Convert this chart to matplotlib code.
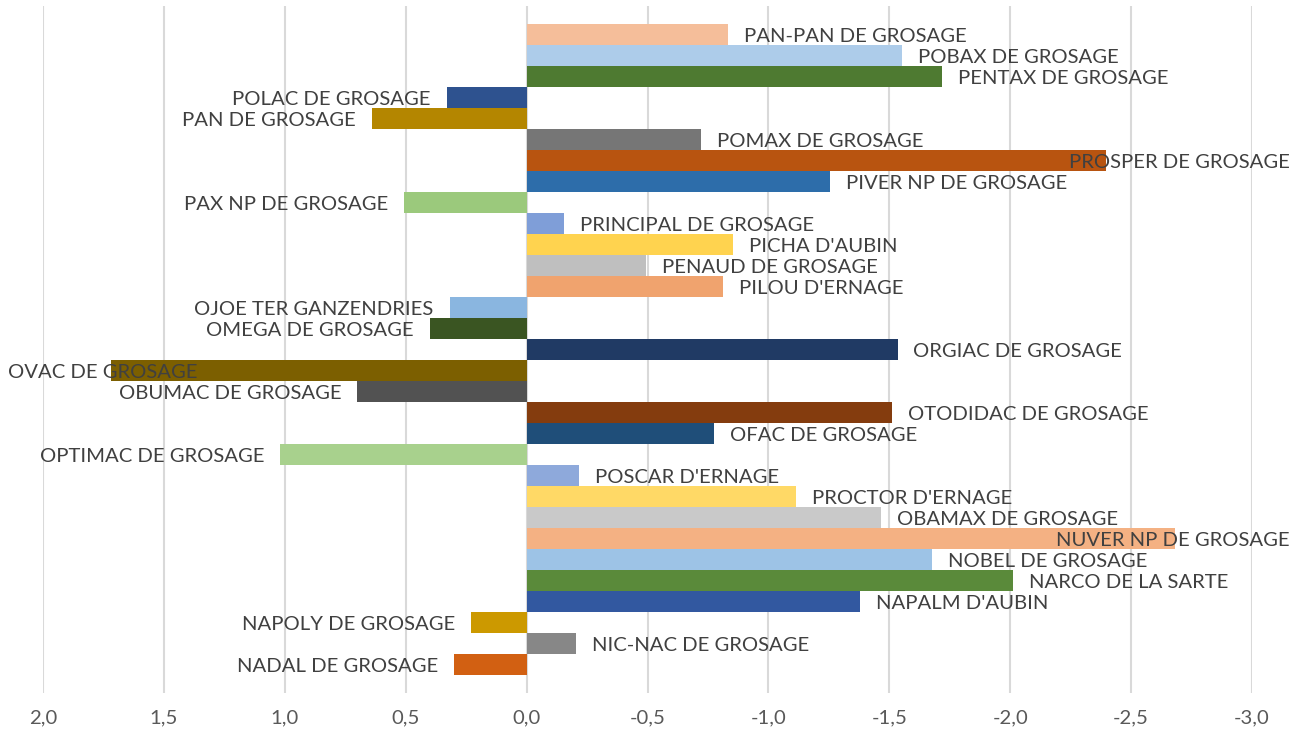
import matplotlib
matplotlib.use("Agg")
import matplotlib.pyplot as plt
import numpy as np

# bars listed top to bottom
producers = [
    "PAN-PAN DE GROSAGE", "POBAX DE GROSAGE", "PENTAX DE GROSAGE", "POLAC DE GROSAGE",
    "PAN DE GROSAGE", "POMAX DE GROSAGE", "PROSPER DE GROSAGE", "PIVER NP DE GROSAGE",
    "PAX NP DE GROSAGE", "PRINCIPAL DE GROSAGE", "PICHA D'AUBIN", "PENAUD DE GROSAGE",
    "PILOU D'ERNAGE", "OJOE TER GANZENDRIES", "OMEGA DE GROSAGE", "ORGIAC DE GROSAGE",
    "OVAC DE GROSAGE", "OBUMAC DE GROSAGE", "OTODIDAC DE GROSAGE", "OFAC DE GROSAGE",
    "OPTIMAC DE GROSAGE", "POSCAR D'ERNAGE", "PROCTOR D'ERNAGE", "OBAMAX DE GROSAGE",
    "NUVER NP DE GROSAGE", "NOBEL DE GROSAGE", "NARCO DE LA SARTE", "NAPALM D'AUBIN",
    "NAPOLY DE GROSAGE", "NIC-NAC DE GROSAGE", "NADAL DE GROSAGE",
]
scores = [
    -0.833, -1.553, -1.716, 0.330,
    0.640, -0.721, -2.395, -1.256,
    0.507, -0.153, -0.853, -0.493,
    -0.812, 0.318, 0.401, -1.534,
    1.717, 0.700, -1.513, -0.775,
    1.018, -0.215, -1.114, -1.464,
    -2.680, -1.675, -2.010, -1.377,
    0.231, -0.204, 0.301,
]
bar_colors = [
    "#F5BE9A", "#ADCCEA", "#4E7A31", "#2E528F",
    "#B48600", "#767676", "#B85410", "#2D6DAA",
    "#9BC97C", "#7F9ED8", "#FFD34F", "#BFBFBF",
    "#F0A36E", "#8AB6E0", "#3A5522", "#203A64",
    "#7C5F00", "#525252", "#843C0E", "#1F4E79",
    "#A8D18D", "#8EA9DB", "#FFD966", "#C9C9C9",
    "#F4B183", "#9DC3E6", "#5A8A3A", "#3258A0",
    "#CC9900", "#878787", "#D26012",
]
ticks = [2.0, 1.5, 1.0, 0.5, 0.0, -0.5, -1.0, -1.5, -2.0, -2.5, -3.0]

plt.rcParams["font.family"] = ["Lato", "DejaVu Sans"]
W, H = 1306, 740
fig = plt.figure(figsize=(W / 100, H / 100), dpi=100)
ax = fig.add_axes([43 / W, 47 / H, (1252 - 43) / W, (693 - 6) / H])

n = len(producers)
ypos = np.arange(n)[::-1]
ax.barh(ypos, scores, height=1.0, color=bar_colors, zorder=2)
ax.set_xlim(2.0, -3.0)
ax.set_ylim(-0.5 - 0.86, n - 0.5 + 0.86)
ax.set_xticks(ticks)
ax.set_xticklabels([f"{t:.1f}".replace(".", ",") for t in ticks])
ax.set_yticks([])
ax.grid(axis="x", color="#D9D9D9", lw=1.5, zorder=0)
for s in ax.spines.values():
    s.set_visible(False)
ax.tick_params(axis="x", length=0, pad=12, labelsize=14.6, labelcolor="#595959")

fs = 14.6
labels = []
for y, name, v in zip(ypos, producers, scores):
    if v < 0:
        ha, dx = "left", 11.5
    else:
        ha, dx = "right", -11.5
    t = ax.annotate(name, (v, y), xytext=(dx, -0.37 * fs), textcoords="offset points",
                    ha=ha, va="baseline", fontsize=fs, color="#404040", zorder=5,
                    annotation_clip=False)
    labels.append(t)

# keep labels inside the chart area, like the spreadsheet does
fig.canvas.draw()
r = fig.canvas.get_renderer()
for t in labels:
    bb = t.get_window_extent(r)
    shift = 0
    if bb.x0 < 8:
        shift = 8 - bb.x0
    elif bb.x1 > 1290:
        shift = 1290 - bb.x1
    if shift:
        dx, dy = t.xyann
        t.xyann = (dx + shift * 72 / fig.dpi, dy)

fig.savefig("out.png", dpi=100)
